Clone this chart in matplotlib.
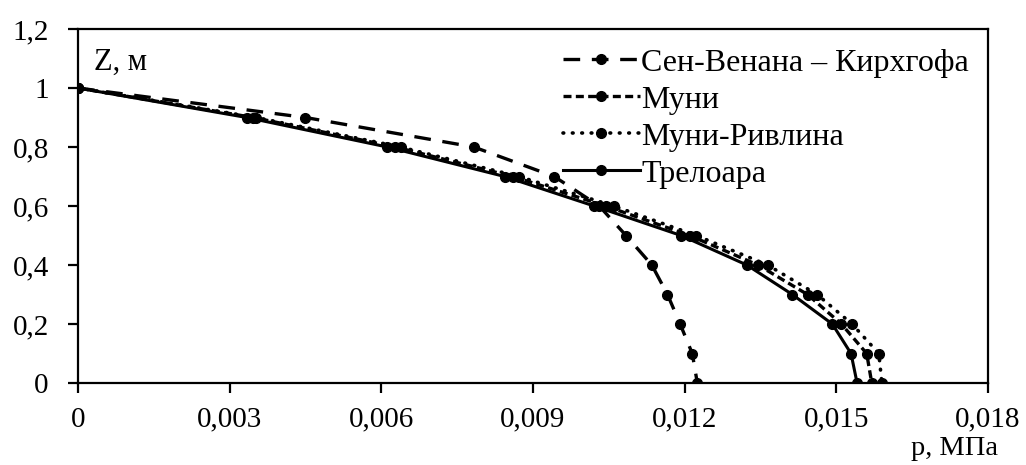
import matplotlib.pyplot as plt
from matplotlib.ticker import FuncFormatter, MultipleLocator

plt.rcParams['font.family'] = ['Liberation Serif', 'DejaVu Serif']

z = [1, 0.9, 0.8, 0.7, 0.6, 0.5, 0.4, 0.3, 0.2, 0.1, 0]

# давление p, МПа для каждой модели
p_sv = [0, 0.00450, 0.00783, 0.00942, 0.01031, 0.01084, 0.01135, 0.01166, 0.01191, 0.01215, 0.01225]
p_mooney = [0, 0.00347, 0.00628, 0.00860, 0.01044, 0.01210, 0.01345, 0.01443, 0.01510, 0.01560, 0.01570]
p_mr = [0, 0.00353, 0.00638, 0.00872, 0.01060, 0.01223, 0.01364, 0.01462, 0.01531, 0.01584, 0.01590]
p_treloar = [0, 0.00334, 0.00612, 0.00844, 0.01021, 0.01193, 0.01323, 0.01413, 0.01492, 0.01529, 0.01541]

names = ["Сен-Венана – Кирхгофа", "Муни", "Муни-Ривлина", "Трелоара"]

fig = plt.figure(figsize=(10.26, 4.65), dpi=100)
ax = fig.add_axes([0.076, 0.1763, 0.887, 0.7613])

ms = 7
ax.plot(p_sv, z, color='k', lw=2.4, dashes=(5.0, 3.5), marker='o', ms=ms, label=names[0])
ax.plot(p_mooney, z, color='k', lw=2.4, dashes=(2.4, 1.3), marker='o', ms=ms, label=names[1])
ax.plot(p_mr, z, color='k', lw=2.6, dashes=(0.2, 2.4), dash_capstyle='round',
        marker='o', ms=ms, label=names[2])
ax.plot(p_treloar, z, color='k', lw=2.2, marker='o', ms=ms, label=names[3])

ax.set_xlim(0, 0.018)
ax.set_ylim(0, 1.2)
ax.xaxis.set_major_locator(MultipleLocator(0.003))
ax.yaxis.set_major_locator(MultipleLocator(0.2))
fmt = FuncFormatter(lambda v, pos: f"{v:g}".replace('.', ','))
ax.xaxis.set_major_formatter(fmt)
ax.yaxis.set_major_formatter(fmt)

for s in ax.spines.values():
    s.set_linewidth(1.6)
ax.tick_params(direction='out', length=7, width=1.6, labelsize=21, colors='k')
ax.tick_params(axis='x', pad=10)
ax.tick_params(axis='y', pad=14)

ax.text(0.018, 0.885, "Z, м", transform=ax.transAxes, fontsize=22)
fig.text(0.93, 0.022, "p, МПа", ha='center', fontsize=20.5)

ax.legend(loc='upper right', bbox_to_anchor=(1.0, 1.0), frameon=False, fontsize=23,
          numpoints=1, handlelength=2.4, handletextpad=0.05, labelspacing=0.24,
          borderaxespad=0.4, borderpad=0.2)

fig.savefig('out.png', dpi=100)
